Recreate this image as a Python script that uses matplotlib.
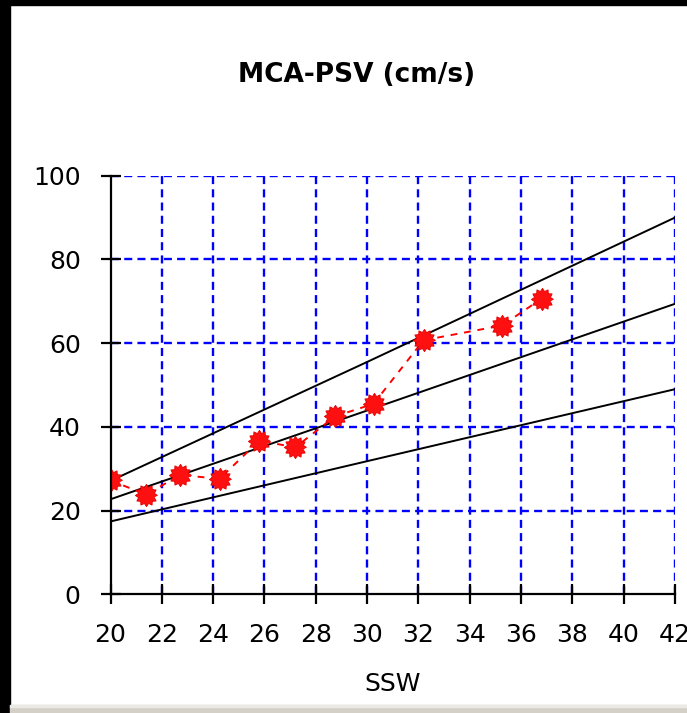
import numpy as np
import matplotlib
matplotlib.use("Agg")
import matplotlib.pyplot as plt
from matplotlib.patches import Rectangle

# measured points (SSW, cm/s)
ssw = [20.0, 21.4, 22.7, 24.25, 25.8, 27.2, 28.75, 30.25, 32.2, 35.25, 36.8]
psv = [27.2, 23.8, 28.5, 27.6, 36.7, 35.1, 42.5, 45.5, 60.7, 64.2, 70.6]

# reference curves
ref_x = [20, 30, 42]
ref_hi = [27.1, 55.5, 90.0]
ref_mid = [22.7, 43.9, 69.4]
ref_lo = [17.4, 31.8, 49.0]

xticks = list(range(20, 43, 2))
yticks = list(range(0, 101, 20))

fig = plt.figure(figsize=(6.87, 7.13), dpi=100)
fig.patch.set_facecolor("white")

# window frame bits
fig.patches.append(Rectangle((0, 0), 10 / 687, 1, transform=fig.transFigure, color="black", zorder=0))
fig.patches.append(Rectangle((0, 1 - 5 / 713), 1, 5 / 713, transform=fig.transFigure, color="black", zorder=0))
fig.patches.append(Rectangle((10 / 687, 0), 1, 8 / 713, transform=fig.transFigure, color="#d4d0c8", zorder=0))
fig.patches.append(Rectangle((10 / 687, 6 / 713), 1, 2 / 713, transform=fig.transFigure, color="#ebe9e4", zorder=0))

ax = fig.add_axes([110.5 / 687, 118.7 / 713, 564.5 / 687, 418.6 / 713])

ax.set_xlim(20, 42)
ax.set_ylim(0, 100)
ax.set_xticks(xticks)
ax.set_yticks(yticks)

ax.grid(True, color="#0000ff", linestyle=(0, (3.4, 2.2)), linewidth=1.7)
ax.set_axisbelow(True)
# no dashed line under the axis lines themselves
ax.xaxis.get_gridlines()[0].set_visible(False)
ax.yaxis.get_gridlines()[0].set_visible(False)

for ys in (ref_hi, ref_mid, ref_lo):
    ax.plot(ref_x, ys, color="black", lw=1.4, zorder=3)

# spiky round marker
ang = np.linspace(0, 2 * np.pi, 24, endpoint=False)
rad = np.where(np.arange(24) % 2 == 0, 1.0, 0.74)
blob = list(zip(rad * np.cos(ang), rad * np.sin(ang)))

ax.plot(ssw, psv, color="#ff0000", lw=1.4, linestyle=(0, (3.5, 3.5)), zorder=4)
ax.plot(ssw, psv, linestyle="none", marker=blob, markersize=16,
        markerfacecolor="#ff1010", markeredgecolor="#e00000", markeredgewidth=0.6, zorder=5)

for s in ("top", "right"):
    ax.spines[s].set_visible(False)
for s in ("left", "bottom"):
    ax.spines[s].set_linewidth(1.6)
    ax.spines[s].set_zorder(6)

ax.tick_params(direction="inout", length=15, width=1.6, labelsize=18, pad=13, colors="black")
ax.tick_params(axis="y", pad=14)

ax.set_xlabel("SSW", fontsize=18, labelpad=18)

fig.text(357 / 687, 1 - 75 / 713, "MCA-PSV (cm/s)", fontsize=19, fontweight="bold",
         ha="center", va="center")

fig.savefig("out.png", dpi=100)
